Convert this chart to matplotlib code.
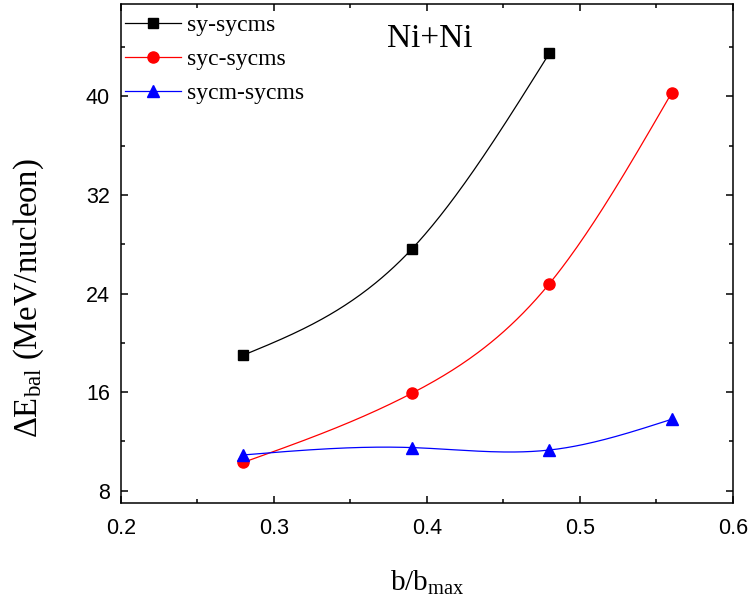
import numpy as np
import matplotlib
matplotlib.use('Agg')
import matplotlib.pyplot as plt
from matplotlib.ticker import MultipleLocator

# data
b_sy = [0.28, 0.39, 0.48]
e_sy = [19.0, 27.6, 43.5]

b_syc = [0.28, 0.39, 0.48, 0.56]
e_syc = [10.3, 15.9, 24.8, 40.3]

b_sycm = [0.28, 0.39, 0.48, 0.56]
e_sycm = [10.9, 11.5, 11.3, 13.8]

labels = ['sy-sycms', 'syc-sycms', 'sycm-sycms']


def spline(x, y, n=200):
    # natural cubic spline through the points (smooth connecting line)
    x = np.asarray(x, float)
    y = np.asarray(y, float)
    k = len(x)
    h = np.diff(x)
    A = np.zeros((k, k))
    r = np.zeros(k)
    A[0, 0] = A[-1, -1] = 1
    for i in range(1, k - 1):
        A[i, i - 1] = h[i - 1]
        A[i, i] = 2 * (h[i - 1] + h[i])
        A[i, i + 1] = h[i]
        r[i] = 6 * ((y[i + 1] - y[i]) / h[i] - (y[i] - y[i - 1]) / h[i - 1])
    m = np.linalg.solve(A, r)
    xs = np.linspace(x[0], x[-1], n)
    j = np.clip(np.searchsorted(x, xs) - 1, 0, k - 2)
    t0 = x[j + 1] - xs
    t1 = xs - x[j]
    hj = h[j]
    ys = (m[j] * t0**3 + m[j + 1] * t1**3) / (6 * hj) \
        + (y[j] / hj - m[j] * hj / 6) * t0 + (y[j + 1] / hj - m[j + 1] * hj / 6) * t1
    return xs, ys


plt.rcParams['mathtext.fontset'] = 'custom'
plt.rcParams['mathtext.rm'] = 'Liberation Serif'
plt.rcParams['mathtext.it'] = 'Liberation Serif:italic'

fig = plt.figure(figsize=(7.51, 6.15), dpi=100)
ax = fig.add_axes([0.1611, 0.1821, 0.8149, 0.8114])

series = [(b_sy, e_sy, 'black', 's', 7.5),
          (b_syc, e_syc, 'red', 'o', 8),
          (b_sycm, e_sycm, 'blue', '^', 8.5)]
for (bx, ey, c, mk, ms), lab in zip(series, labels):
    xs, ys = spline(bx, ey)
    ax.plot(xs, ys, color=c, lw=0.9)
    ax.plot(bx, ey, ls='none', marker=mk, ms=ms, color=c)
    ax.plot([], [], color=c, lw=0.9, marker=mk, ms=ms, label=lab)

ax.set_xlim(0.2, 0.6)
ax.set_ylim(7.0, 47.5)
ax.xaxis.set_major_locator(MultipleLocator(0.1))
ax.xaxis.set_minor_locator(MultipleLocator(0.05))
ax.yaxis.set_major_locator(MultipleLocator(8))
ax.yaxis.set_minor_locator(MultipleLocator(4))
ax.set_yticks([8, 16, 24, 32, 40])

for s in ax.spines.values():
    s.set_linewidth(1.1)
ax.tick_params(which='both', direction='in', top=True, right=True, width=1.1)
ax.tick_params(which='major', length=5)
ax.tick_params(which='minor', length=3)
ax.tick_params(axis='x', pad=11)
ax.tick_params(axis='y', pad=8)
for t in ax.get_xticklabels() + ax.get_yticklabels():
    t.set_fontfamily('Liberation Sans')
    t.set_fontsize(15.5)

ax.set_xlabel(r'b/b$_{\mathrm{max}}$', family='Liberation Serif', fontsize=21, labelpad=21)
ax.set_ylabel(r'$\Delta$E$_{\mathrm{bal}}$ (MeV/nucleon)', family='Liberation Serif',
              fontsize=23.5)
ax.yaxis.set_label_coords(-0.122, 0.41)

ax.text(0.505, 0.93, 'Ni+Ni', transform=ax.transAxes, ha='center', va='center',
        family='Liberation Serif', fontsize=24)

ax.legend(loc='upper left', bbox_to_anchor=(0.006, 0.979), frameon=False,
          prop={'family': 'Liberation Serif', 'size': 17},
          handlelength=2.4, handletextpad=0.25, labelspacing=0.53, borderpad=0,
          borderaxespad=0)

fig.savefig('out.png', dpi=100)
